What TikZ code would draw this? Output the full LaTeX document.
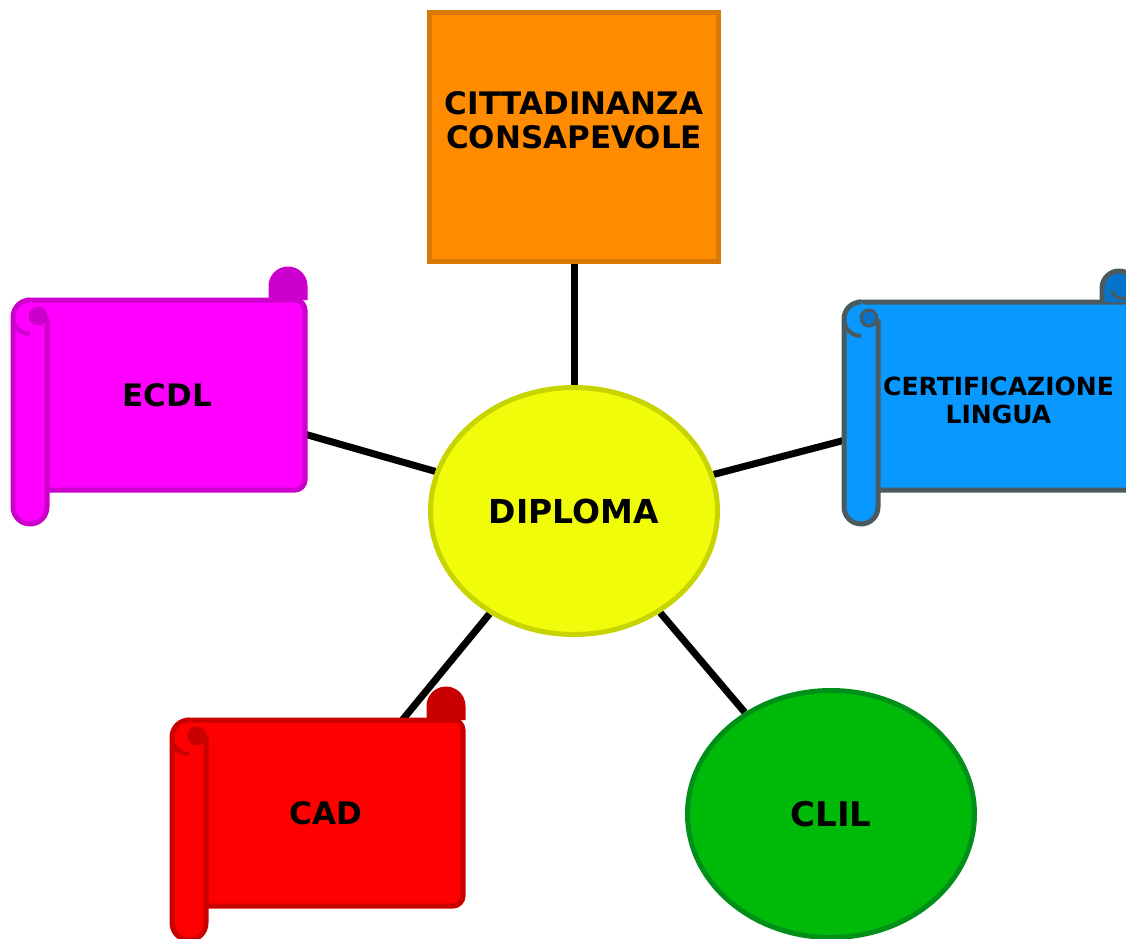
\documentclass[tikz,border=0pt]{standalone}
\usepackage{fontspec}
\setmainfont{DejaVu Sans}
\usetikzlibrary{shapes.geometric}

\pgfdeclarelayer{back}
\pgfsetlayers{back,main}

\definecolor{cittfill}{HTML}{FF8C00}
\definecolor{cittline}{HTML}{D97A06}
\definecolor{dipfill}{HTML}{F0FC0A}
\definecolor{dipline}{HTML}{C8D400}
\definecolor{clilfill}{HTML}{00BA0A}
\definecolor{clilline}{HTML}{00901A}
\definecolor{ecdlfill}{HTML}{FF00FF}
\definecolor{ecdlline}{HTML}{CC00CC}
\definecolor{certfill}{HTML}{0898FF}
\definecolor{certline}{HTML}{4A5A5E}
\definecolor{certcurl}{HTML}{0575CC}
\definecolor{cadfill}{HTML}{FF0000}
\definecolor{cadline}{HTML}{C80000}

\tikzset{
  link/.style={line width=7pt},
  lbl/.style={font=\bfseries\fontsize{31}{34}\selectfont, align=center, inner sep=0pt},
  bubble/.style={ellipse, lbl, line width=5pt, minimum width=287pt, minimum height=247pt},
  scrolltext/.style={rectangle, lbl},
}

% x0, y0, x1, y1, fill, line, curl
\newcommand{\scrollbox}[7]{%
  \filldraw[fill=#5, draw=#6, line width=5pt] ({#1+17},#2) [rounded corners=10pt] -- (#3,#2)
    -- (#3,#4) -- ({#1+17},#4) [sharp corners] -- cycle;
  \filldraw[fill=#7, draw=#6, line width=5pt, line join=round] ({#3-34},{#2}) -- ({#3-34},{#2-14})
    arc[start angle=180, end angle=360, radius=17] -- (#3,{#2});
  \draw[draw=#6, line width=3pt] ({#3-24},{#2-12}) arc[start angle=180, end angle=90, radius=8] -- ({#3-10},{#2-4});
  \filldraw[fill=#5, draw=#6, line width=5pt, line join=round] ({#1+34},{#2+17}) -- ({#1+34},{#4+17})
    arc[start angle=0, end angle=180, radius=17] -- (#1,{#2+17})
    arc[start angle=180, end angle=270, radius=17] -- ({#1+17},#2);
  \draw[draw=#6, line width=4pt] (#1,{#2+17}) arc[start angle=180, end angle=90, radius=17];
  \filldraw[fill=#7, draw=#6, line width=3pt] ({#1+25},{#2+16}) circle[radius=8];
}

\begin{document}
\begin{tikzpicture}[x=1pt, y=-1pt]
\useasboundingbox (0,0) rectangle (1126,938);

\node[rectangle, lbl, fill=cittfill, draw=cittline, line width=5pt,
      minimum width=289pt, minimum height=249pt] (citt) at (574,136.5)
      {CITTADINANZA\\CONSAPEVOLE\\\mbox{}};
\node[bubble, fill=dipfill, draw=dipline, font=\bfseries\fontsize{33}{36}\selectfont] (dip) at (574,511) {DIPLOMA};
\node[bubble, fill=clilfill, draw=clilline, font=\bfseries\fontsize{34}{36}\selectfont] (clil) at (831,814) {CLIL};

\scrollbox{13}{300}{305}{490}{ecdlfill}{ecdlline}{ecdlline}
\node[scrolltext, minimum width=275pt, minimum height=190pt] (ecdl) at (167.5,395) {ECDL};

\scrollbox{844}{302}{1136}{490}{certfill}{certline}{certcurl}
\node[scrolltext, minimum width=275pt, minimum height=188pt,
      font=\bfseries\fontsize{25}{28}\selectfont] (cert) at (998.5,400) {CERTIFICAZIONE\\LINGUA};

\scrollbox{172}{720}{463}{906}{cadfill}{cadline}{cadline}
\node[scrolltext, minimum width=274pt, minimum height=186pt] (cad) at (326,813) {CAD};

\begin{pgfonlayer}{back}
\draw[link] (dip) -- (citt);
\draw[link] (dip) -- (ecdl);
\draw[link] (dip) -- (cert);
\draw[link] (dip) -- (cad);
\draw[link] (dip) -- (clil);
\end{pgfonlayer}
\end{tikzpicture}
\end{document}
